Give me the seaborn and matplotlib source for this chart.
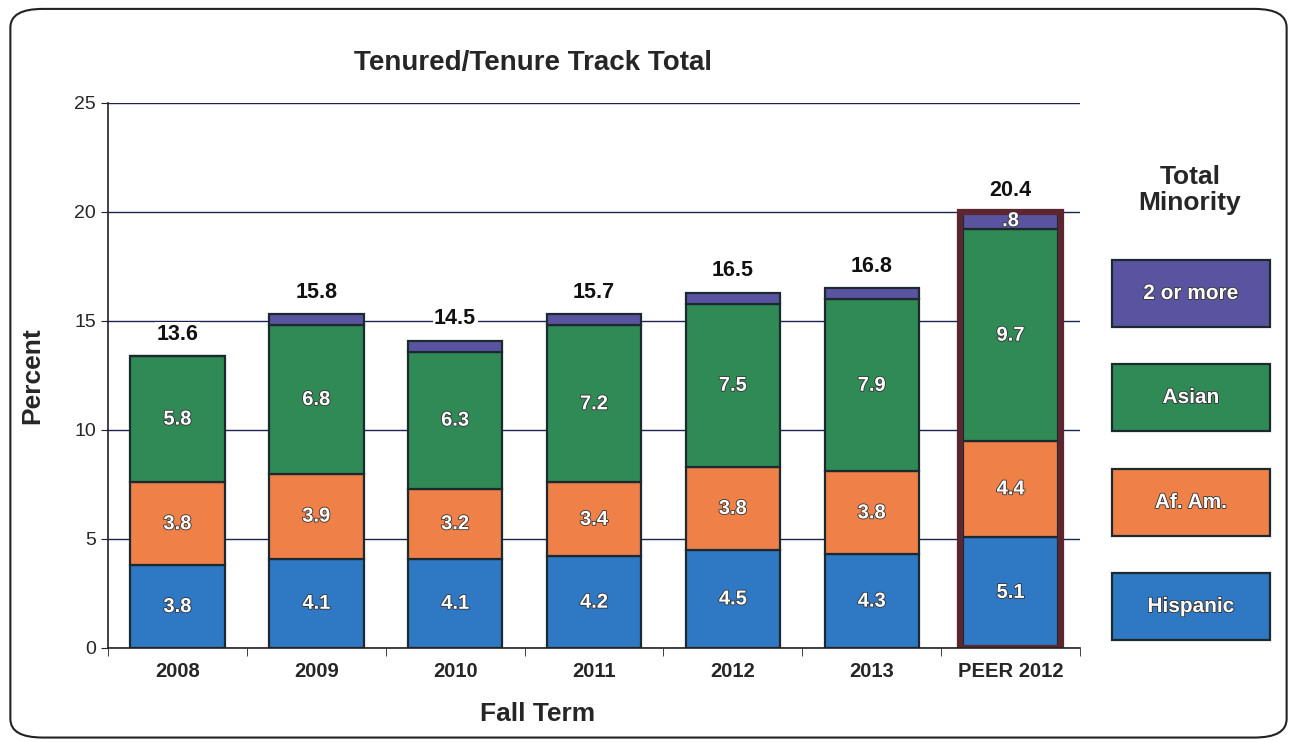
"""Tenured/tenure track minority share, stacked by group."""

import matplotlib

matplotlib.use("Agg")
import matplotlib.pyplot as plt
import matplotlib.patheffects as pe
from matplotlib.patches import FancyBboxPatch
import numpy as np
import seaborn as sns

terms = ["2008", "2009", "2010", "2011", "2012", "2013", "PEER 2012"]
hispanic = [3.8, 4.1, 4.1, 4.2, 4.5, 4.3, 5.1]
af_am = [3.8, 3.9, 3.2, 3.4, 3.8, 3.8, 4.4]
asian = [5.8, 6.8, 6.3, 7.2, 7.5, 7.9, 9.7]
two_more = [0.0, 0.5, 0.5, 0.5, 0.5, 0.5, 0.8]
totals = ["13.6", "15.8", "14.5", "15.7", "16.5", "16.8", "20.4"]
seg_labels = {
    "Hispanic": ["3.8", "4.1", "4.1", "4.2", "4.5", "4.3", "5.1"],
    "Af. Am.": ["3.8", "3.9", "3.2", "3.4", "3.8", "3.8", "4.4"],
    "Asian": ["5.8", "6.8", "6.3", "7.2", "7.5", "7.9", "9.7"],
    "2 or more": ["", "", "", "", "", "", ".8"],
}

groups = ["Hispanic", "Af. Am.", "Asian", "2 or more"]
values = {"Hispanic": hispanic, "Af. Am.": af_am, "Asian": asian, "2 or more": two_more}
colors = {"Hispanic": "#2f78c4", "Af. Am.": "#ee8048", "Asian": "#2f8a55", "2 or more": "#5a54a0"}

sns.set_style("white")
plt.rcParams["font.family"] = ["Liberation Sans", "DejaVu Sans"]

fig = plt.figure(figsize=(12.97, 7.42), dpi=100)
ax = fig.add_axes([0.0833, 0.1267, 0.7494, 0.7345])

# gridlines behind bars
ax.set_axisbelow(True)
ax.yaxis.grid(True, color="#1d2455", linewidth=1.0)

bottom = np.zeros(len(terms))
for g in groups:
    vals = np.array(values[g])
    sns.barplot(x=terms, y=vals, bottom=bottom, color=colors[g], width=0.68,
                edgecolor="#1c2a30", linewidth=1.6, ax=ax, saturation=1)
    for i, lab in enumerate(seg_labels[g]):
        if lab:
            ax.text(i, bottom[i] + vals[i] / 2, lab, ha="center", va="center",
                    color="white", fontsize=14.5, fontweight="bold",
                    path_effects=[pe.withStroke(linewidth=1.2, foreground="#333333")])
    bottom = bottom + vals

# maroon frame around the peer bar
sns.barplot(x=terms[-1:], y=bottom[-1:], order=terms, fill=False, width=0.73,
            color="#5b2630", edgecolor="#5b2630", linewidth=4.5, ax=ax)

for i, lab in enumerate(totals):
    ax.text(i, bottom[i] + 1.0, lab, ha="center", va="center", fontsize=15.5,
            fontweight="bold", color="#111111",
            bbox=dict(facecolor="white", edgecolor="none", pad=1.0))

ax.set_ylim(0, 25)
ax.set_xlim(-0.5, 6.5)
ax.set_yticks([0, 5, 10, 15, 20, 25])
ax.tick_params(axis="y", labelsize=14, length=5, direction="out", left=True, color="#222222")
ax.set_xticks(range(len(terms)))
ax.set_xticklabels(terms, fontsize=14.5, fontweight="bold")
ax.set_xticks(np.arange(-0.5, 7, 1), minor=True)
ax.tick_params(axis="x", which="major", length=0, pad=10)
ax.tick_params(axis="x", which="minor", length=6, bottom=True, color="#222222")
for s in ["top", "right"]:
    ax.spines[s].set_visible(False)
for s in ["left", "bottom"]:
    ax.spines[s].set_color("#222222")
    ax.spines[s].set_linewidth(1.2)

ax.set_ylabel("Percent", fontsize=19, fontweight="bold", labelpad=22)
ax.set_xlabel("Fall Term", fontsize=19, fontweight="bold")
ax.xaxis.set_label_coords(0.442, -0.1)
fig.text(533 / 1297, 1 - 63 / 742, "Tenured/Tenure Track Total", ha="center",
         va="center", fontsize=20, fontweight="bold")

# legend boxes on the right
fig.text(1190 / 1297, 1 - 190 / 742, "Total\nMinority", ha="center", va="center",
         fontsize=19, fontweight="bold", linespacing=1.1)
box_tops = [260, 364, 469, 573]
for g, top in zip(["2 or more", "Asian", "Af. Am.", "Hispanic"], box_tops):
    x0, w, h = 1112 / 1297, 158 / 1297, 67 / 742
    y0 = 1 - (top + 67) / 742
    fig.patches.append(FancyBboxPatch((x0, y0), w, h, boxstyle="square,pad=0",
                                      transform=fig.transFigure, facecolor=colors[g],
                                      edgecolor="#1c2a30", linewidth=1.6))
    fig.text(x0 + w / 2, y0 + h / 2, g, ha="center", va="center", color="white",
             fontsize=15, fontweight="bold",
             path_effects=[pe.withStroke(linewidth=1.2, foreground="#333333")])

# rounded outer frame
fig.patches.append(FancyBboxPatch((0.008, 0.006), 0.984, 0.982,
                                  boxstyle="round,pad=0,rounding_size=0.025",
                                  transform=fig.transFigure, facecolor="none",
                                  edgecolor="#222222", linewidth=1.5))

fig.savefig("out.png", dpi=100)
